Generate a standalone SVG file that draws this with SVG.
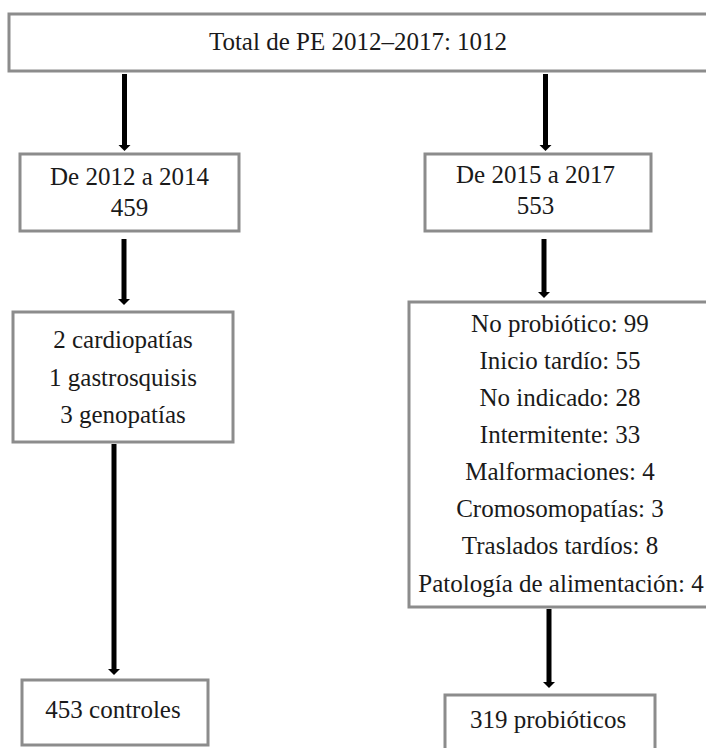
<svg xmlns="http://www.w3.org/2000/svg" width="706" height="748" viewBox="0 0 706 748">
<style>
.box{fill:#fff;stroke:#8c8c8c;stroke-width:3}
.t{font-family:"Liberation Serif","DejaVu Serif",serif;font-size:25px;fill:#1a1a1a;text-anchor:middle}
.shaft{stroke:#000;stroke-width:5;fill:none}
.head{fill:#000}
</style>
<rect width="706" height="748" fill="#fff"/>
<g id="connectors">
<line class="shaft" x1="124.5" y1="74" x2="124.5" y2="146"/><polygon class="head" points="118.5,145 130.5,145 124.5,151"/>
<line class="shaft" x1="545.5" y1="74" x2="545.5" y2="146"/><polygon class="head" points="539.5,145 551.5,145 545.5,151"/>
<line class="shaft" x1="124" y1="239" x2="124" y2="300"/><polygon class="head" points="118,299 130,299 124,305"/>
<line class="shaft" x1="544" y1="239" x2="544" y2="293"/><polygon class="head" points="538,292 550,292 544,298"/>
<line class="shaft" x1="114" y1="444" x2="114" y2="670"/><polygon class="head" points="108,669 120,669 114,675"/>
<line class="shaft" x1="549" y1="609" x2="549" y2="683"/><polygon class="head" points="543,682 555,682 549,688"/>
</g>
<g id="total">
<rect class="box" x="9" y="14" width="720" height="57"/>
<text class="t" x="358" y="50">Total de PE 2012–2017: 1012</text>
</g>
<g id="period1">
<rect class="box" x="20" y="154" width="219" height="77"/>
<text class="t" x="129.5" y="185">De 2012 a 2014</text>
<text class="t" x="129.5" y="216">459</text>
</g>
<g id="period2">
<rect class="box" x="425" y="154" width="226" height="77"/>
<text class="t" x="535.5" y="183">De 2015 a 2017</text>
<text class="t" x="535.5" y="214">553</text>
</g>
<g id="excl1">
<rect class="box" x="13" y="312" width="220" height="130"/>
<text class="t" x="123" y="348">2 cardiopatías</text>
<text class="t" x="123" y="386">1 gastrosquisis</text>
<text class="t" x="123" y="423">3 genopatías</text>
</g>
<g id="excl2">
<rect class="box" x="409" y="302" width="300" height="305"/>
<text class="t" x="560" y="332">No probiótico: 99</text>
<text class="t" x="560" y="369">Inicio tardío: 55</text>
<text class="t" x="560" y="406">No indicado: 28</text>
<text class="t" x="560" y="443">Intermitente: 33</text>
<text class="t" x="560" y="480">Malformaciones: 4</text>
<text class="t" x="560" y="517">Cromosomopatías: 3</text>
<text class="t" x="560" y="554">Traslados tardíos: 8</text>
<text class="t" x="561" y="592">Patología de alimentación: 4</text>
</g>
<g id="controls">
<rect class="box" x="22" y="680" width="186" height="65"/>
<text class="t" x="113" y="718">453 controles</text>
</g>
<g id="probiotics">
<rect class="box" x="445" y="695" width="210" height="70"/>
<text class="t" x="548" y="728">319 probióticos</text>
</g>
</svg>
